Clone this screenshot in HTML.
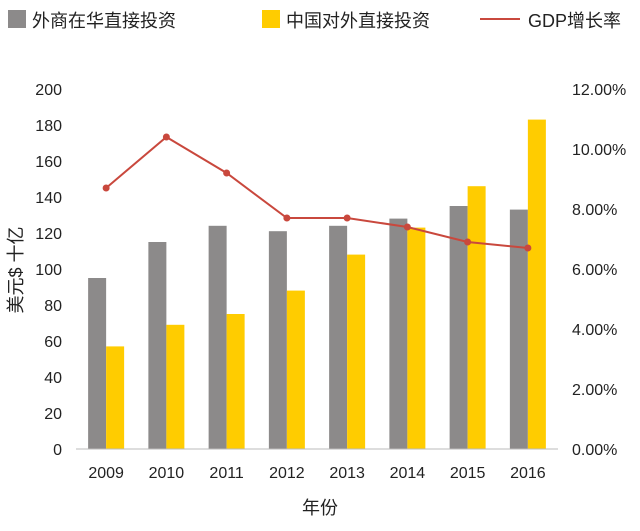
<!DOCTYPE html>
<html><head><meta charset="utf-8"><style>
body{margin:0;background:#fff;}
svg text{font-family:"Liberation Sans","Noto Sans CJK SC",sans-serif;}
</style></head><body>
<svg id="c" width="640" height="526" xmlns="http://www.w3.org/2000/svg">
<g>
<rect x="8" y="10" width="18" height="18" fill="#8c8a8a"/>
<text x="32" y="27" font-size="18" fill="#222">外商在华直接投资</text>
<rect x="262" y="10" width="18" height="18" fill="#ffcc00"/>
<text x="286" y="27" font-size="18" fill="#222">中国对外直接投资</text>
<line x1="480" y1="19" x2="520" y2="19" stroke="#c9483d" stroke-width="2"/>
<text x="528" y="27" font-size="18" fill="#222">GDP增长率</text>
</g>
<g id="plot"></g>
<text transform="translate(22,270) rotate(-90)" text-anchor="middle" font-size="18" fill="#222">美元$ 十亿</text>
<text x="320" y="514" text-anchor="middle" font-size="18" fill="#222">年份</text>
</svg>
<script>
const categories=["2009","2010","2011","2012","2013","2014","2015","2016"];
const foreignFDI=[95,115,124,121,124,128,135,133];
const chinaODI=[57,69,75,88,108,123,146,183];
const gdpGrowth=[8.7,10.4,9.2,7.7,7.7,7.4,6.9,6.7];
const leftTicks=[0,20,40,60,80,100,120,140,160,180,200];
const rightTicks=["0.00%","2.00%","4.00%","6.00%","8.00%","10.00%","12.00%"];
const NS="http://www.w3.org/2000/svg";
const g=document.getElementById('plot');
const x0=76,x1=558,yTop=89,yBot=449;
const yL=v=>yBot-(v/200)*(yBot-yTop);
const yR=v=>yBot-(v/12)*(yBot-yTop);
const step=(x1-x0)/categories.length;
const xc=i=>x0+step*(i+0.5);
function el(t,a){const e=document.createElementNS(NS,t);for(const k in a)e.setAttribute(k,a[k]);g.appendChild(e);return e;}
leftTicks.forEach(v=>{const t=el('text',{x:62,y:yL(v)+6,'text-anchor':'end','font-size':16,fill:'#222'});t.textContent=v;
});
rightTicks.forEach((s,i)=>{const t=el('text',{x:572,y:yR(i*2)+6,'font-size':16,fill:'#222'});t.textContent=s;
});
const bw=18;
categories.forEach((c,i)=>{
const a=el('rect',{x:xc(i)-bw,y:yL(foreignFDI[i]),width:bw,height:yBot-yL(foreignFDI[i]),fill:'#8c8a8a'});

const b=el('rect',{x:xc(i),y:yL(chinaODI[i]),width:bw,height:yBot-yL(chinaODI[i]),fill:'#ffcc00'});

const t=el('text',{x:xc(i),y:478,'text-anchor':'middle','font-size':16,fill:'#222'});t.textContent=c;

});
const ax=el('line',{x1:x0,y1:yBot,x2:x1,y2:yBot,stroke:'#bbb','stroke-width':1});

const ln=el('polyline',{points:gdpGrowth.map((v,i)=>xc(i)+','+yR(v)).join(' '),fill:'none',stroke:'#c9483d','stroke-width':2});

gdpGrowth.forEach((v,i)=>{const p=el('circle',{cx:xc(i),cy:yR(v),r:3.5,fill:'#c9483d'});
});
</script>
</body></html>
